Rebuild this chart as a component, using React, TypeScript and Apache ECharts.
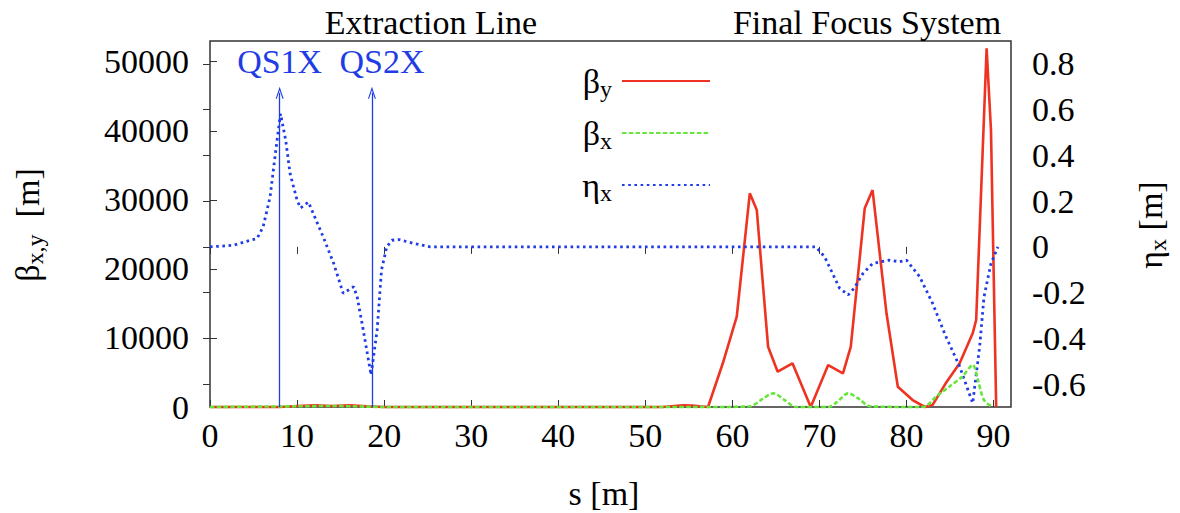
import React, { useEffect, useRef } from "react";
import * as echarts from "echarts";

const FONT = "Liberation Serif";
const RED = "#ee3322";
const GREEN = "#66e63a";
const BLUE = "#1f3ce6";

// s positions [m] and values
const etaS = [0, 2.7, 4.6, 5.4, 6.1, 6.9, 7.6, 8.1, 8.7, 9.2, 10, 10.4, 11.3, 13, 14.2, 15.3, 16.5, 16.9, 17.6, 18.5, 19.2, 19.7, 20.3, 20.9, 21.7, 23.4, 25.3, 69.6, 70.6, 71.5, 72.3, 73.3, 74, 75, 76.1, 78, 79.2, 80, 81.5, 83, 84.5, 86.1, 87.6, 88.4, 88.9, 89.7, 90.5];
const etaV = [0, 0.007, 0.029, 0.036, 0.087, 0.218, 0.436, 0.582, 0.465, 0.32, 0.204, 0.17, 0.196, 0.044, -0.072, -0.203, -0.174, -0.218, -0.363, -0.56, -0.363, -0.1, 0, 0.029, 0.032, 0.015, 0, 0, -0.044, -0.116, -0.18, -0.21, -0.18, -0.116, -0.073, -0.058, -0.065, -0.058, -0.13, -0.247, -0.39, -0.523, -0.683, -0.436, -0.218, -0.073, 0];

const betaYS = [0, 8, 10, 12, 14, 16, 18, 20, 52, 54.3, 55.4, 56.2, 57.2, 58.9, 60.5, 62, 62.8, 64.1, 65.2, 66.9, 69, 71, 72.7, 73.6, 75.2, 76.1, 77.7, 79, 80.7, 82.1, 83, 84.5, 86.1, 87.6, 88, 89.2, 89.7, 90.3];
const betaYV = [0, 0, 150, 250, 150, 250, 100, 0, 0, 250, 200, 100, 0, 6330, 13080, 30940, 28530, 8730, 5110, 6330, 0, 6080, 4880, 8730, 28770, 31420, 13570, 2940, 1010, 0, 300, 3430, 6330, 10670, 12600, 51940, 40110, 0];

const betaXS = [0, 10, 14, 18, 20, 58, 62, 63.5, 64.7, 66, 67.3, 71, 72, 73.3, 74.5, 75.8, 81.5, 82.2, 83.4, 84.9, 86.4, 87.6, 88.2, 88.9, 89.9];
const betaXV = [0, 100, 150, 50, 0, 0, 100, 1200, 1980, 1000, 0, 0, 700, 1980, 1200, 100, 0, 100, 1500, 2940, 4390, 6080, 3910, 1000, 0];

const xTicks = [0, 10, 20, 30, 40, 50, 60, 70, 80, 90];
const yLeftTicks = [0, 10000, 20000, 30000, 40000, 50000];
const yRightTicks = [-0.6, -0.4, -0.2, 0, 0.2, 0.4, 0.6, 0.8];

const quadNames = ["QS1X", "QS2X"];
const quadS = [8, 18.6];
const quadLabelShift = [0, 20];
const arrowTop = 45500;

const sectionNames = ["Extraction Line", "Final Focus System"];
const sectionX = [431, 867];

const zip = (a: number[], b: number[]) => a.map((v, i) => [v, b[i]]);

const richText = {
  g: { fontSize: 34, fontFamily: FONT, color: "#000", lineHeight: 40, verticalAlign: "middle" },
  s: { fontSize: 24, fontFamily: FONT, color: "#000", lineHeight: 24, verticalAlign: "bottom" },
};

const legendLabels: Record<string, string> = {
  "βy": "{g|β}{s|y}",
  "βx": "{g|β}{s|x}",
  "ηx": "{g|η}{s|x}",
};

export default function App() {
  const ref = useRef<HTMLDivElement>(null);
  useEffect(() => {
    if (!ref.current) return;
    const chart = echarts.init(ref.current, undefined, { renderer: "svg" });
    const tickLabel = { fontSize: 34, fontFamily: FONT, color: "#000", formatter: (v: number) => String(v) };
    chart.setOption({
      animation: false,
      backgroundColor: "#fff",
      grid: { left: 210, right: 169, top: 41, bottom: 106, show: true, borderColor: "#333", borderWidth: 1.5 },
      xAxis: [
        {
          type: "value", min: 0, max: 92, position: "bottom",
          axisLine: { show: false }, splitLine: { show: false },
          axisTick: { inside: true, length: 7, customValues: xTicks, lineStyle: { color: "#333" } },
          axisLabel: { ...tickLabel, margin: 11, customValues: xTicks },
        },
        {
          type: "value", min: 0, max: 92, position: "top",
          axisLine: { show: false }, splitLine: { show: false },
          axisTick: { inside: true, length: 7, customValues: xTicks, lineStyle: { color: "#333" } },
          axisLabel: { show: false },
        },
      ],
      yAxis: [
        {
          type: "value", min: 0, max: 53000, position: "left",
          axisLine: { show: false }, splitLine: { show: false },
          axisTick: { inside: true, length: 7, customValues: yLeftTicks, lineStyle: { color: "#333" } },
          axisLabel: { ...tickLabel, margin: 21, customValues: yLeftTicks },
        },
        {
          type: "value", min: -0.7, max: 0.9, position: "right",
          axisLine: { show: false }, splitLine: { show: false },
          axisTick: { inside: true, length: 7, customValues: yRightTicks, lineStyle: { color: "#333" } },
          axisLabel: { ...tickLabel, margin: 21, customValues: yRightTicks },
        },
      ],
      legend: {
        orient: "vertical",
        align: "right",
        right: 469,
        top: 64,
        padding: 0,
        itemGap: 15,
        itemWidth: 88,
        itemHeight: 14,
        itemStyle: { opacity: 0 },
        data: ["βy", "βx", "ηx"],
        formatter: (name: string) => legendLabels[name] || name,
        textStyle: { rich: richText, padding: [0, 5, 0, 0] },
      },
      graphic: [
        ...sectionNames.map((t, i) => ({
          type: "text", x: sectionX[i], y: 22,
          style: { text: t, font: `34px ${FONT}`, fill: "#000", align: "center", verticalAlign: "middle", textAlign: "center", textVerticalAlign: "middle" },
        })),
        {
          type: "text", x: 27, y: 225, rotation: Math.PI / 2,
          style: { text: "{g|β}{s|x,y}{g|  [m]}", rich: richText, align: "center", verticalAlign: "middle", textAlign: "center", textVerticalAlign: "middle" },
        },
        {
          type: "text", x: 1150, y: 225, rotation: Math.PI / 2,
          style: { text: "{g|η}{s|x}{g| [m]}", rich: richText, align: "center", verticalAlign: "middle", textAlign: "center", textVerticalAlign: "middle" },
        },
        {
          type: "text", x: 604, y: 493,
          style: { text: "s [m]", font: `34px ${FONT}`, fill: "#000", align: "center", verticalAlign: "middle", textAlign: "center", textVerticalAlign: "middle" },
        },
      ],
      series: [
        {
          name: "βy", type: "line", xAxisIndex: 0, yAxisIndex: 0, data: zip(betaYS, betaYV),
          symbol: "none", clip: false, z: 2,
          lineStyle: { color: RED, width: 2.6 }, itemStyle: { color: RED },
          markLine: {
            silent: true, animation: false,
            symbol: ["none", "path://M5,0 L10,14 L8.6,14 L5,4 L1.4,14 L0,14 Z"],
            symbolSize: [8, 12],
            lineStyle: { color: BLUE, width: 1.3, type: "solid" },
            label: { show: true, position: "end", formatter: "{b}", color: BLUE, fontSize: 34, fontFamily: FONT, distance: 14 },
            data: quadNames.map((n, i) => [
              { coord: [quadS[i], 0], name: n, label: { padding: [0, 0, 0, quadLabelShift[i]] } },
              { coord: [quadS[i], arrowTop] },
            ]),
          },
        },
        {
          name: "βx", type: "line", xAxisIndex: 0, yAxisIndex: 0, data: zip(betaXS, betaXV),
          symbol: "none", clip: false, z: 3, smooth: 0.3,
          lineStyle: { color: GREEN, width: 2.6, type: [4.5, 2.3] }, itemStyle: { color: GREEN },
        },
        {
          name: "ηx", type: "line", xAxisIndex: 0, yAxisIndex: 1, data: zip(etaS, etaV),
          symbol: "none", clip: false, z: 2,
          lineStyle: { color: BLUE, width: 2.8, type: [2.6, 3.6] }, itemStyle: { color: BLUE },
        },
      ],
    });
    return () => chart.dispose();
  }, []);
  return <div ref={ref} style={{ position: "absolute", left: 0, top: 0, width: 1180, height: 513 }} />;
}
